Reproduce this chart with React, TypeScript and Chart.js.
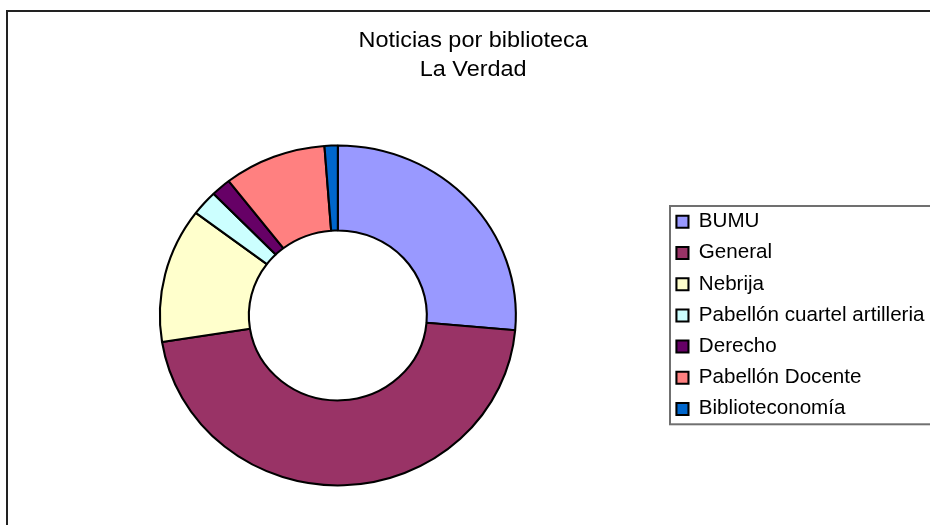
import React, { useEffect, useRef } from 'react';
import { Chart, registerables } from 'chart.js';

Chart.register(...registerables);

// ---- data ----
const categories = [
  'BUMU',
  'General',
  'Nebrija',
  'Pabellón cuartel artilleria',
  'Derecho',
  'Pabellón Docente',
  'Biblioteconomía',
];
const values = [26.4, 46.1, 12.8, 2.4, 1.8, 9.3, 1.2];
const colors = ['#9999FF', '#993366', '#FFFFCC', '#CCFFFF', '#660066', '#FF8080', '#0066CC'];
const titleLines = ['Noticias por biblioteca', 'La Verdad'];

// horizontal stretch of the whole drawing (the reference is slightly wider than tall)
const SX = 1.047;
const FONT = '"Liberation Sans", Arial, sans-serif';

const stretchPlugin = {
  id: 'stretch',
  beforeDraw(chart: any) {
    const c = chart.ctx;
    c.save();
    c.fillStyle = '#ffffff';
    c.fillRect(0, 0, chart.width, chart.height);
    c.scale(SX, 1);
  },
  afterDraw(chart: any) {
    const c = chart.ctx;
    c.restore();
    c.save();
    // outer chart frame (right/bottom edges fall outside the picture)
    c.strokeStyle = '#222222';
    c.lineWidth = 2;
    c.beginPath();
    c.moveTo(7, 540);
    c.lineTo(7, 11);
    c.lineTo(945, 11);
    c.stroke();
    // legend frame
    c.strokeStyle = '#707070';
    c.lineWidth = 2;
    c.strokeRect(670, 206, 290, 218.3);
    c.restore();
  },
};

export default function App() {
  const ref = useRef<HTMLCanvasElement>(null);
  useEffect(() => {
    const chart = new Chart(ref.current as HTMLCanvasElement, {
      type: 'doughnut',
      data: {
        labels: categories,
        datasets: [
          {
            data: values,
            backgroundColor: colors,
            borderColor: '#000000',
            borderWidth: 2,
            clip: false as any,
          },
        ],
      },
      options: {
        responsive: false,
        animation: false,
        radius: 170,
        cutout: '50%',
        layout: { padding: { left: 10.8, right: 37, top: 0, bottom: 0 } },
        plugins: {
          title: {
            display: true,
            text: titleLines,
            color: '#000000',
            font: { family: FONT, size: 22.4, weight: 'normal', lineHeight: 29 / 22.4 },
            padding: { top: 26.3, bottom: 21.5 },
          },
          legend: {
            display: true,
            position: 'right',
            align: 'center',
            fullSize: false,
            labels: {
              color: '#000000',
              font: { family: FONT, size: 19.7 },
              boxWidth: 11.5,
              boxHeight: 12,
              padding: 11.5,
            },
          },
          tooltip: { enabled: false },
        },
      } as any,
      plugins: [stretchPlugin],
    });
    return () => chart.destroy();
  }, []);
  return (
    <div
      style={{
        position: 'fixed',
        left: 0,
        top: 0,
        width: 930,
        height: 525,
        background: '#ffffff',
      }}
    >
      <canvas ref={ref} width={930} height={525} style={{ display: 'block' }} />
    </div>
  );
}
